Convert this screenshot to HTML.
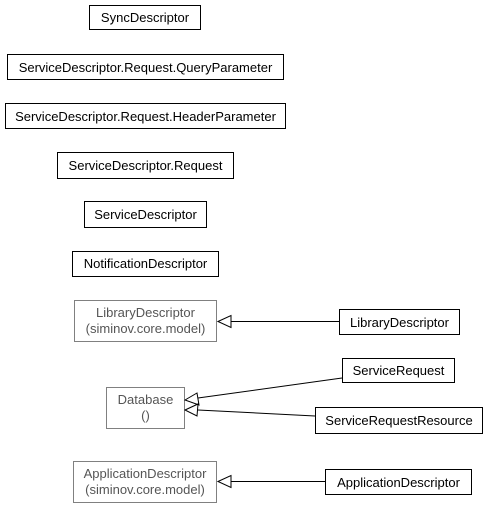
<!DOCTYPE html>
<html><head><style>
html,body{margin:0;padding:0;background:#fff;}
svg{display:block;}
text{font-family:"Liberation Sans",sans-serif;font-size:13px;}
</style></head><body>
<svg width="488" height="507" viewBox="0 0 488 507" xmlns="http://www.w3.org/2000/svg">
<g fill="#fff" stroke="#000" stroke-width="1">
<rect x="89.5" y="5.5" width="111" height="24"/>
<rect x="7.5" y="54.5" width="276" height="25"/>
<rect x="5.5" y="103.5" width="280" height="25"/>
<rect x="57.5" y="152.5" width="176" height="26"/>
<rect x="84.5" y="201.5" width="122" height="26"/>
<rect x="72.5" y="251.5" width="146" height="25"/>
<rect x="339.5" y="309.5" width="120" height="25"/>
<rect x="342.5" y="358.5" width="112" height="24"/>
<rect x="315.5" y="407.5" width="167" height="26"/>
<rect x="325.5" y="469.5" width="146" height="25"/>
</g>
<g fill="#fff" stroke="#808080" stroke-width="1">
<rect x="74.5" y="300.5" width="142" height="41"/>
<rect x="106.5" y="387.5" width="78" height="41"/>
<rect x="73.5" y="461.5" width="143" height="41"/>
</g>
<g stroke="#000" stroke-width="1" fill="none">
<line x1="231" y1="321.5" x2="339" y2="321.5"/>
<line x1="198" y1="398" x2="342" y2="378"/>
<line x1="198" y1="410" x2="315" y2="416"/>
<line x1="231" y1="481.5" x2="325" y2="481.5"/>
</g>
<g stroke="#000" stroke-width="1" fill="#fff">
<polygon points="218,321.5 231,315.5 231,327.5"/>
<polygon points="185,400 197,393 199,405"/>
<polygon points="185,410 198,404 197,416"/>
<polygon points="218,481.5 231,475.5 231,487.5"/>
</g>
<g text-anchor="middle" fill="#000">
<text x="145" y="22">SyncDescriptor</text>
<text x="145.5" y="72">ServiceDescriptor.Request.QueryParameter</text>
<text x="145.5" y="121">ServiceDescriptor.Request.HeaderParameter</text>
<text x="145.5" y="170">ServiceDescriptor.Request</text>
<text x="145.5" y="219">ServiceDescriptor</text>
<text x="145.5" y="268">NotificationDescriptor</text>
<text x="399.5" y="327">LibraryDescriptor</text>
<text x="398.5" y="375">ServiceRequest</text>
<text x="399" y="425">ServiceRequestResource</text>
<text x="398.5" y="487">ApplicationDescriptor</text>
</g>
<g text-anchor="middle" fill="#555">
<text x="145.5" y="317">LibraryDescriptor</text>
<text x="145.5" y="333">(siminov.core.model)</text>
<text x="145.5" y="404">Database</text>
<text x="145.5" y="420">()</text>
<text x="145" y="478">ApplicationDescriptor</text>
<text x="145" y="494">(siminov.core.model)</text>
</g>
</svg>
</body></html>
